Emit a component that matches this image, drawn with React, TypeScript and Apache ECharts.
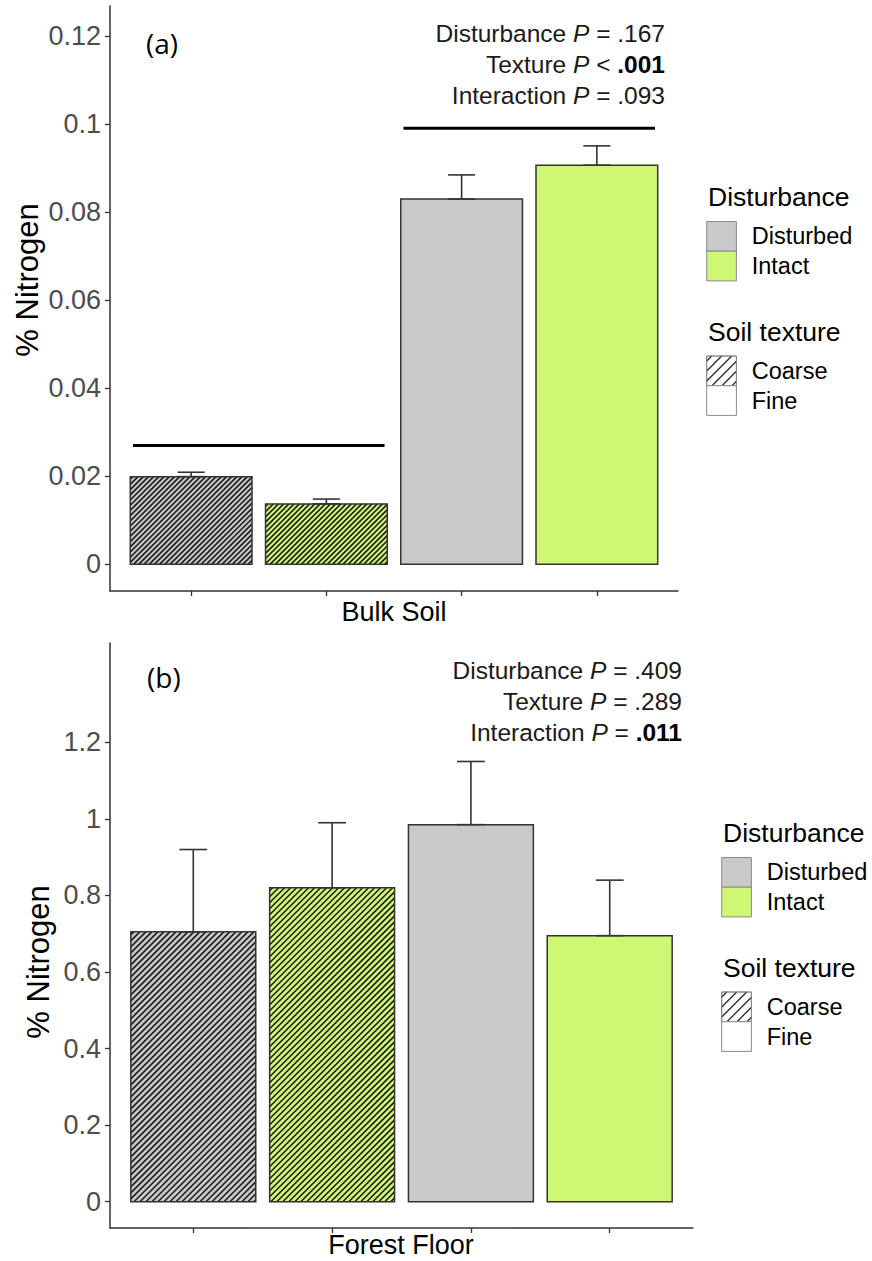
import React, { useEffect, useRef } from 'react';
import * as echarts from 'echarts';

// Bar positions (1..4) and the factor levels of each bar
const positions = [1, 2, 3, 4];
const disturbanceOf = ['Disturbed', 'Intact', 'Disturbed', 'Intact'];
const textureOf = ['Coarse', 'Coarse', 'Fine', 'Fine'];

// (a) Bulk soil: mean % N and mean + SE
const bulkMean = [0.0199, 0.0137, 0.083, 0.0907];
const bulkUpper = [0.0209, 0.0148, 0.0885, 0.0951];

// (b) Forest floor: mean % N and mean + SE
const forestMean = [0.705, 0.82, 0.985, 0.695];
const forestUpper = [0.92, 0.99, 1.15, 0.84];

// Axis tick values
const bulkTicks = [0, 0.02, 0.04, 0.06, 0.08, 0.1, 0.12];
const forestTicks = [0, 0.2, 0.4, 0.6, 0.8, 1, 1.2];

// Grouping brackets in panel (a): [xStart, xEnd, y]
const bulkBrackets = [
  [0.57, 2.43, 0.027],
  [2.57, 4.43, 0.0991],
];

const disturbanceLevels = ['Disturbed', 'Intact'];
const textureLevels = ['Coarse', 'Fine'];
const fillColors = ['#C9C9C9', '#CFF774'];

const FONT = 'Liberation Sans, Arial, sans-serif';
const INK = '#333333';

function hatchSegments(x0: number, y0: number, w: number, h: number, step: number) {
  const segs: number[][] = [];
  for (let c = x0 + y0 + step / 2; c < x0 + w + y0 + h; c += step) {
    const xa = Math.max(x0, c - y0 - h);
    const xb = Math.min(x0 + w, c - y0);
    if (xb - xa > 0.3) segs.push([xa, c - xa, xb, c - xb]);
  }
  return segs;
}

function hatchElements(x0: number, y0: number, w: number, h: number, step: number, lw: number, color: string) {
  return hatchSegments(x0, y0, w, h, step).map((s) => ({
    type: 'line',
    shape: { x1: s[0], y1: s[1], x2: s[2], y2: s[3] },
    style: { stroke: color, lineWidth: lw },
    silent: true,
  }));
}

function makeRenderItem(step: number) {
  return (params: any, api: any) => {
    const xv = api.value(0);
    const mean = api.value(1);
    const upper = api.value(2);
    const dIdx = api.value(3);
    const tIdx = api.value(4);
    const base = api.coord([xv, 0]);
    const top = api.coord([xv, mean]);
    const up = api.coord([xv, upper]);
    const bw = api.size([0.9, 0])[0];
    const cw = api.size([0.2, 0])[0];
    const x0 = base[0] - bw / 2;
    const y0 = top[1];
    const h = base[1] - top[1];
    const children: any[] = [
      {
        type: 'rect',
        shape: { x: x0, y: y0, width: bw, height: h },
        style: { fill: fillColors[dIdx], stroke: 'none' },
      },
    ];
    if (tIdx === 0) {
      children.push(...hatchElements(x0, y0, bw, h, step, 1.6, '#1e1e1e'));
    }
    children.push({
      type: 'rect',
      shape: { x: x0, y: y0, width: bw, height: h },
      style: { fill: 'none', stroke: INK, lineWidth: 1.5 },
    });
    children.push(
      { type: 'line', shape: { x1: base[0], y1: top[1], x2: base[0], y2: up[1] }, style: { stroke: INK, lineWidth: 1.6 } },
      { type: 'line', shape: { x1: base[0] - cw / 2, y1: up[1], x2: base[0] + cw / 2, y2: up[1] }, style: { stroke: INK, lineWidth: 1.6 } },
      { type: 'line', shape: { x1: base[0] - cw / 2, y1: top[1], x2: base[0] + cw / 2, y2: top[1] }, style: { stroke: INK, lineWidth: 1.6 } },
    );
    return { type: 'group', children };
  };
}

function barRows(means: number[], uppers: number[]) {
  return positions.map((p, i) => [
    p,
    means[i],
    uppers[i],
    disturbanceLevels.indexOf(disturbanceOf[i]),
    textureLevels.indexOf(textureOf[i]),
  ]);
}

const tickFormatter = (v: number) => String(parseFloat(Number(v).toFixed(4)));

function yAxisFor(gridIndex: number, min: number, max: number, ticks: number[]) {
  return {
    type: 'value',
    gridIndex,
    min,
    max,
    splitLine: { show: false },
    axisLine: { show: true, lineStyle: { color: INK, width: 1.5 } },
    axisTick: { show: true, length: 5, customValues: ticks, lineStyle: { color: INK, width: 1.3 } },
    axisLabel: {
      customValues: ticks,
      formatter: tickFormatter,
      color: '#4D4D4D',
      fontFamily: FONT,
      fontSize: 27,
      margin: 9,
    },
  };
}

function xAxisFor(gridIndex: number) {
  return {
    type: 'value',
    gridIndex,
    min: 0.4,
    max: 4.6,
    splitLine: { show: false },
    axisLine: { show: true, onZero: false, lineStyle: { color: INK, width: 1.5 } },
    axisTick: { show: true, length: 5, customValues: positions, lineStyle: { color: INK, width: 1.3 } },
    axisLabel: { show: false },
  };
}

function legendGraphics(bx: number, tx: number, ty: number, lx: number) {
  const size = 29.7;
  const b1 = ty + 24.5;
  const st = ty + 135;
  const c1 = ty + 159;
  const out: any[] = [
    { type: 'text', x: tx, y: ty, style: { text: 'Disturbance', fontFamily: FONT, fontSize: 26.5, fill: '#000', verticalAlign: 'middle' } },
  ];
  disturbanceLevels.forEach((lvl, i) => {
    out.push({
      type: 'rect',
      shape: { x: bx, y: b1 + i * size, width: size, height: size },
      style: { fill: fillColors[i], stroke: '#8A8A8A', lineWidth: 1 },
    });
    out.push({
      type: 'text',
      x: lx,
      y: b1 + i * size + size / 2,
      style: { text: lvl, fontFamily: FONT, fontSize: 23.5, fill: '#000', verticalAlign: 'middle' },
    });
  });
  out.push({ type: 'text', x: tx, y: st, style: { text: 'Soil texture', fontFamily: FONT, fontSize: 26.5, fill: '#000', verticalAlign: 'middle' } });
  textureLevels.forEach((lvl, i) => {
    const y = c1 + i * size;
    out.push({
      type: 'rect',
      shape: { x: bx, y, width: size, height: size },
      style: { fill: '#FFFFFF', stroke: '#8A8A8A', lineWidth: 1 },
    });
    if (i === 0) {
      hatchElements(bx, y, size, size, 10, 1.3, '#2a2a2a').forEach((e) => out.push(e));
      out.push({
        type: 'rect',
        shape: { x: bx, y, width: size, height: size },
        style: { fill: 'none', stroke: '#8A8A8A', lineWidth: 1 },
      });
    }
    out.push({
      type: 'text',
      x: lx,
      y: y + size / 2,
      style: { text: lvl, fontFamily: FONT, fontSize: 23.5, fill: '#000', verticalAlign: 'middle' },
    });
  });
  return out;
}

const STAT_SIZE = 24.5;
const richStyles = {
  n: { fontFamily: FONT, fontSize: STAT_SIZE, fill: '#1a1a1a' },
  i: { fontFamily: FONT, fontSize: STAT_SIZE, fontStyle: 'italic', fill: '#1a1a1a' },
  b: { fontFamily: FONT, fontSize: STAT_SIZE, fontWeight: 'bold', fill: '#000' },
};

function statLines(rightX: number, ys: number[], lines: string[]) {
  return lines.map((t, k) => ({
    type: 'text',
    x: rightX,
    y: ys[k],
    style: { text: t, rich: richStyles, align: 'right', verticalAlign: 'middle', fontFamily: FONT, fontSize: STAT_SIZE },
  }));
}

function bracketSeries(xAxisIndex: number, yAxisIndex: number, b: number[]) {
  return {
    type: 'line',
    xAxisIndex,
    yAxisIndex,
    data: [
      [b[0], b[2]],
      [b[1], b[2]],
    ],
    symbol: 'none',
    lineStyle: { color: '#000', width: 3 },
    silent: true,
    z: 3,
  };
}

export default function App() {
  const ref = useRef<HTMLDivElement>(null);

  useEffect(() => {
    if (!ref.current) return;
    const chart = echarts.init(ref.current, null, { renderer: 'svg' });
    const option: any = {
      animation: false,
      backgroundColor: '#FFFFFF',
      grid: [
        { left: 110, top: 6, width: 568, height: 585 },
        { left: 110, top: 643, width: 583, height: 585 },
      ],
      xAxis: [xAxisFor(0), xAxisFor(1)],
      yAxis: [
        yAxisFor(0, -0.0061, 0.1269, bulkTicks),
        yAxisFor(1, -0.0687, 1.4595, forestTicks),
      ],
      series: [
        {
          type: 'custom',
          xAxisIndex: 0,
          yAxisIndex: 0,
          renderItem: makeRenderItem(5.2),
          encode: { x: 0, y: [1, 2] },
          data: barRows(bulkMean, bulkUpper),
          z: 2,
        },
        {
          type: 'custom',
          xAxisIndex: 1,
          yAxisIndex: 1,
          renderItem: makeRenderItem(6),
          encode: { x: 0, y: [1, 2] },
          data: barRows(forestMean, forestUpper),
          z: 2,
        },
        ...bulkBrackets.map((b) => bracketSeries(0, 0, b)),
      ],
      graphic: [
        // panel letters
        { type: 'text', x: 146, y: 43, style: { text: '(a)', fontFamily: 'Open Sans, Noto Sans, sans-serif', fontSize: 28, fill: '#000', verticalAlign: 'middle' } },
        { type: 'text', x: 147, y: 677, style: { text: '(b)', fontFamily: 'Open Sans, Noto Sans, sans-serif', fontSize: 28, fill: '#000', verticalAlign: 'middle' } },
        // axis titles
        { type: 'text', x: 394, y: 612, style: { text: 'Bulk Soil', fontFamily: FONT, fontSize: 27, fill: '#000', align: 'center', verticalAlign: 'middle' } },
        { type: 'text', x: 401, y: 1245, style: { text: 'Forest Floor', fontFamily: FONT, fontSize: 27, fill: '#000', align: 'center', verticalAlign: 'middle' } },
        { type: 'text', x: 27, y: 280, rotation: Math.PI / 2, style: { text: '% Nitrogen', fontFamily: FONT, fontSize: 31, fill: '#000', align: 'center', verticalAlign: 'middle' } },
        { type: 'text', x: 38, y: 962, rotation: Math.PI / 2, style: { text: '% Nitrogen', fontFamily: FONT, fontSize: 31, fill: '#000', align: 'center', verticalAlign: 'middle' } },
        // ANOVA results
        ...statLines(665, [33, 64, 95], [
          '{n|Disturbance }{i|P}{n| = .167}',
          '{n|Texture }{i|P}{n| < }{b|.001}',
          '{n|Interaction }{i|P}{n| = .093}',
        ]),
        ...statLines(682, [670, 701, 732], [
          '{n|Disturbance }{i|P}{n| = .409}',
          '{n|Texture }{i|P}{n| = .289}',
          '{n|Interaction }{i|P}{n| = }{b|.011}',
        ]),
        // legends
        ...legendGraphics(706.7, 708, 197, 751.7),
        ...legendGraphics(721.7, 723, 833, 766.7),
      ],
    };
    chart.setOption(option);
    return () => chart.dispose();
  }, []);

  return (
    <div
      ref={ref}
      style={{ position: 'absolute', left: 0, top: 0, width: 872, height: 1261, background: '#fff' }}
    />
  );
}
